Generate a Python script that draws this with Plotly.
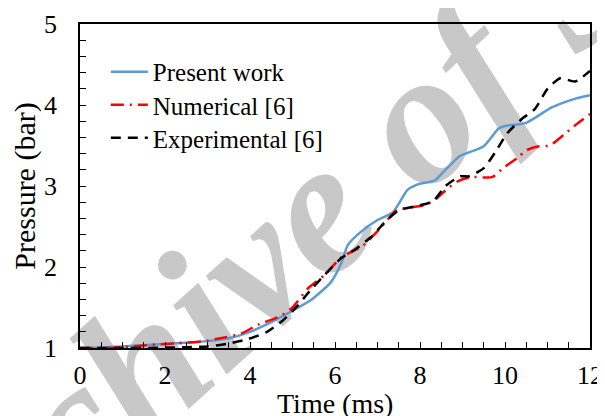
import plotly.graph_objects as go

# ---- data ----
present_t = [0, 0.5, 1.0, 1.5, 2.0, 2.5, 3.0, 3.5, 4.0, 4.5, 5.0, 5.45, 5.9, 6.15, 6.3, 6.6,
             7.0, 7.35, 7.5, 7.7, 7.95, 8.35, 8.6, 8.94, 9.5, 9.85, 10.0, 10.5, 11.1, 11.6, 12.0]
present_p = [1.00, 1.005, 1.02, 1.035, 1.05, 1.065, 1.085, 1.12, 1.2, 1.32, 1.46, 1.6, 1.81, 2.05, 2.27, 2.43,
             2.58, 2.67, 2.78, 2.95, 3.02, 3.07, 3.2, 3.37, 3.49, 3.71, 3.74, 3.78, 3.97, 4.07, 4.12]

numerical_t = [0, 0.5, 1.0, 1.7, 2.3, 2.85, 3.3, 3.8, 4.2, 4.7, 5.0, 5.35, 5.75, 6.15, 6.4, 6.65,
               7.05, 7.45, 7.85, 8.15, 8.4, 8.65, 8.9, 9.2, 9.7, 9.95, 10.3, 10.5, 10.8, 11.05, 11.4, 11.7, 12.0]
numerical_p = [1.00, 1.00, 1.01, 1.04, 1.06, 1.08, 1.12, 1.18, 1.29, 1.39, 1.5, 1.73, 1.9, 2.12, 2.19, 2.26,
               2.47, 2.7, 2.74, 2.77, 2.85, 2.97, 3.06, 3.11, 3.11, 3.22, 3.35, 3.44, 3.49, 3.5, 3.64, 3.77, 3.89]

experimental_t = [0, 0.5, 1.0, 1.5, 2.0, 2.5, 3.0, 3.45, 3.95, 4.4, 4.75, 5.1, 5.4, 5.75, 6.15, 6.45,
                  6.85, 7.15, 7.5, 7.9, 8.3, 8.6, 8.95, 9.15, 9.5, 9.8, 10.05, 10.4, 10.7, 11.0, 11.3, 11.65, 12.0]
experimental_p = [1.00, 1.00, 1.00, 1.00, 1.005, 1.01, 1.02, 1.05, 1.11, 1.2, 1.33, 1.51, 1.7, 1.9, 2.11, 2.21,
                  2.37, 2.54, 2.7, 2.75, 2.81, 3.0, 3.12, 3.12, 3.22, 3.44, 3.65, 3.83, 3.95, 4.2, 4.33, 4.29, 4.42]

x_ticks = [0, 2, 4, 6, 8, 10, 12]
y_ticks = [1, 2, 3, 4, 5]

FONT = "Liberation Serif"

fig = go.Figure()
fig.add_trace(go.Scatter(x=present_t, y=present_p, mode="lines", name="Present work", legend="legend",
                         line=dict(color="#5B9BD5", width=2.5, shape="spline", smoothing=0.6)))
fig.add_trace(go.Scatter(x=numerical_t, y=numerical_p, mode="lines", name="Numerical [6]", legend="legend2",
                         line=dict(color="#FF0000", width=2.5, dash="13px,6px,2px,6px",
                                   shape="spline", smoothing=0.6)))
fig.add_trace(go.Scatter(x=experimental_t, y=experimental_p, mode="lines", name="Experimental [6]",
                         legend="legend3",
                         line=dict(color="#000000", width=2.5, dash="10px,7px",
                                   shape="spline", smoothing=0.6)))

# watermark (behind the data)
fig.add_shape(type="line", xref="paper", yref="paper", layer="below",
              x0=0.361, y0=0.357, x1=0.561, y1=0.677,
              line=dict(width=0, color="rgba(0,0,0,0)"),
              label=dict(text="<b><i>Archive of SID</i></b>", textposition="middle", textangle=-42,
                         yanchor="middle", xanchor="center",
                         font=dict(family=FONT, size=190, color="rgb(200,200,200)",
                                   weight="bold", style="italic")))

# x-axis title placed as a paper annotation (sits close to the bottom edge)
fig.add_annotation(text="Time (ms)", xref="paper", yref="paper", x=0.5, y=-0.17,
                   xanchor="center", yanchor="middle", showarrow=False,
                   font=dict(size=28, family=FONT, color="black"))

leg_common = dict(x=0.0506, xanchor="left", yanchor="middle", bgcolor="rgba(0,0,0,0)",
                  font=dict(size=25, family=FONT), itemwidth=37)

# page body has an 8px default margin: the figure is shifted by 8px right/down,
# so margins are compensated to keep the plot area at the reference position.
fig.update_layout(
    width=605, height=416,
    margin=dict(l=72, r=23, t=16, b=76),
    paper_bgcolor="white", plot_bgcolor="white",
    font=dict(family=FONT, color="black", size=25),
    showlegend=True,
    legend=dict(y=0.852, **leg_common),
    legend2=dict(y=0.750, **leg_common),
    legend3=dict(y=0.648, **leg_common),
    xaxis=dict(range=[0, 12], tickvals=x_ticks, ticktext=[str(v) for v in x_ticks],
               ticks="inside", ticklen=6, tickwidth=1, tickcolor="black",
               minor=dict(dtick=0.5, ticks="inside", ticklen=6, tickcolor="black"),
               showline=True, linecolor="black", linewidth=1.5, mirror=True,
               showgrid=False, zeroline=False, ticklabelstandoff=3, automargin=False,
               tickfont=dict(size=26, family=FONT)),
    yaxis=dict(range=[1, 5], tickvals=y_ticks, ticktext=[str(v) for v in y_ticks],
               ticks="inside", ticklen=6, tickwidth=1, tickcolor="black",
               minor=dict(dtick=0.2, ticks="inside", ticklen=6, tickcolor="black"),
               showline=True, linecolor="black", linewidth=1.5, mirror=True,
               showgrid=False, zeroline=False, ticklabelstandoff=16, automargin=False,
               tickfont=dict(size=26, family=FONT),
               title=dict(text="Pressure (bar)", font=dict(size=30, family=FONT), standoff=6)),
)

fig.write_html("out.html")
